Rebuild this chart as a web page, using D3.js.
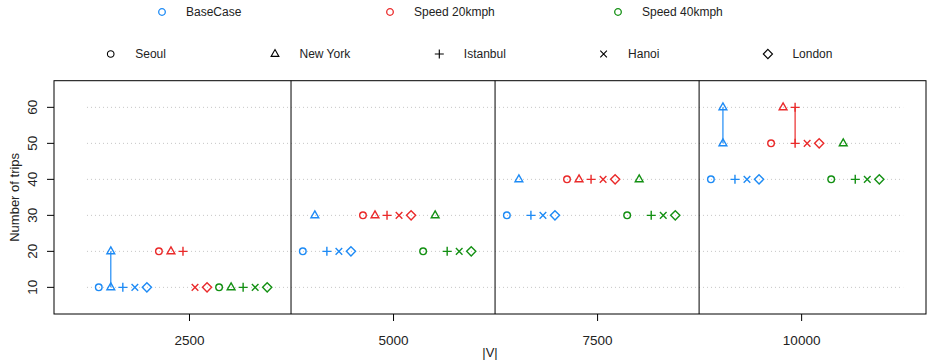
<!DOCTYPE html>
<html>
<head>
<meta charset="utf-8">
<style>
  body { margin: 0; background: white; font-family: "Liberation Sans", Arial, Helvetica, sans-serif; }
  svg { display: block; }
</style>
<script src="https://cdn.jsdelivr.net/npm/d3@7"></script>
</head>
<body>
<svg id="chart"></svg>
<script>
// |V| of each group and the labels
const vValues = [2500, 5000, 7500, 10000]
const xTicks = [2500, 5000, 7500, 10000]
const yTicks = [10, 20, 30, 40, 50, 60]
const scenarios = ["BaseCase", "Speed 20kmph", "Speed 40kmph"]
const cities = ["Seoul", "New York", "Istanbul", "Hanoi", "London"]

// number of trips, one row per |V|, one column per city (low / high of the runs)
const tripsBaseLow  = [[10, 10, 10, 10, 10], [20, 30, 20, 20, 20], [30, 40, 30, 30, 30], [40, 50, 40, 40, 40]]
const tripsBaseHigh = [[10, 20, 10, 10, 10], [20, 30, 20, 20, 20], [30, 40, 30, 30, 30], [40, 60, 40, 40, 40]]
const trips20Low    = [[20, 20, 20, 10, 10], [30, 30, 30, 30, 30], [40, 40, 40, 40, 40], [50, 60, 50, 50, 50]]
const trips20High   = [[20, 20, 20, 10, 10], [30, 30, 30, 30, 30], [40, 40, 40, 40, 40], [50, 60, 60, 50, 50]]
const trips40Low    = [[10, 10, 10, 10, 10], [20, 30, 20, 20, 20], [30, 40, 30, 30, 30], [40, 50, 40, 40, 40]]
const trips40High   = [[10, 10, 10, 10, 10], [20, 30, 20, 20, 20], [30, 40, 30, 30, 30], [40, 50, 40, 40, 40]]

const lowSets = [tripsBaseLow, trips20Low, trips40Low]
const highSets = [tripsBaseHigh, trips20High, trips40High]
const colors = ["#1E8BF5", "#EA2A2A", "#139013"]

let width = 928
let height = 363
let svg = d3.select("#chart").attr("width", width).attr("height", height)

let x = d3.scaleLinear().domain([846, 11530]).range([54, 926])
let y = d3.scaleLinear().domain([2.6, 67.4]).range([314, 80.7])

// spacing of the points inside one |V| group (in |V| units)
let slotStep = 147.4

// symbol paths, like R pch 1..5
function symbolPath(k) {
  if (k == 0) return "M3.3,0A3.3,3.3 0 1,1 -3.3,0A3.3,3.3 0 1,1 3.3,0Z"
  if (k == 1) return "M0,-4.4L3.9,2.4L-3.9,2.4Z"
  if (k == 2) return "M-4.5,0L4.5,0M0,-4.5L0,4.5"
  if (k == 3) return "M-3.3,-3.3L3.3,3.3M-3.3,3.3L3.3,-3.3"
  return "M0,-4.6L4.6,0L0,4.6L-4.6,0Z"
}

// rows of points
let points = []
let ranges = []
vValues.forEach((v, p) => {
  scenarios.forEach((s, si) => {
    cities.forEach((c, ci) => {
      let slot = si * cities.length + ci
      let xv = v + (slot - 7.5) * slotStep
      let lo = lowSets[si][p][ci]
      let hi = highSets[si][p][ci]
      points.push({ x: xv, y: lo, s: si, c: ci })
      if (hi != lo) {
        points.push({ x: xv, y: hi, s: si, c: ci })
        ranges.push({ x: xv, lo: lo, hi: hi, s: si })
      }
    })
  })
})

// dotted grid, spanning the groups
svg.append("g").selectAll("line").data(yTicks).enter().append("line")
  .attr("x1", x(vValues[0] - 1250)).attr("x2", x(vValues[vValues.length - 1] + 1250))
  .attr("y1", d => y(d)).attr("y2", d => y(d))
  .attr("stroke", "#c4c4c4").attr("stroke-width", 1).attr("stroke-dasharray", "1,3")

// separators between groups
let seps = d3.pairs(vValues).map(d => (d[0] + d[1]) / 2)
svg.append("g").selectAll("line").data(seps).enter().append("line")
  .attr("x1", d => x(d)).attr("x2", d => x(d))
  .attr("y1", y.range()[0]).attr("y2", y.range()[1])
  .attr("stroke", "black").attr("stroke-width", 1)

// vertical segments for the ranges
svg.append("g").selectAll("line").data(ranges).enter().append("line")
  .attr("x1", d => x(d.x)).attr("x2", d => x(d.x))
  .attr("y1", d => y(d.lo)).attr("y2", d => y(d.hi))
  .attr("stroke", d => colors[d.s]).attr("stroke-width", 1.2)

svg.append("g").selectAll("path").data(points).enter().append("path")
  .attr("d", d => symbolPath(d.c))
  .attr("transform", d => `translate(${x(d.x)},${y(d.y)})`)
  .attr("fill", "none").attr("stroke", d => colors[d.s]).attr("stroke-width", 1.4)

// box
svg.append("rect")
  .attr("x", 54).attr("y", 80.7).attr("width", 872).attr("height", 314 - 80.7)
  .attr("fill", "none").attr("stroke", "black").attr("stroke-width", 1)

// axes
let xAxis = d3.axisBottom(x).tickValues(xTicks).tickSize(7).tickPadding(14).tickFormat(d3.format("d"))
let gx = svg.append("g").attr("transform", "translate(0,314)").call(xAxis)
gx.select(".domain").remove()
gx.selectAll("text").attr("font-size", 13.5).attr("font-family", null).attr("fill", "#222")

let gy = svg.append("g").attr("transform", "translate(54,0)")
gy.selectAll("line").data(yTicks).enter().append("line")
  .attr("x1", -7).attr("x2", 0).attr("y1", d => y(d)).attr("y2", d => y(d))
  .attr("stroke", "black")
gy.selectAll("text").data(yTicks).enter().append("text")
  .attr("transform", d => `translate(-17.5,${y(d)}) rotate(-90)`)
  .attr("text-anchor", "middle").attr("font-size", 13.5).attr("fill", "#222")
  .text(d => d)

svg.append("text").attr("x", 490).attr("y", 357).attr("text-anchor", "middle")
  .attr("font-size", 13).attr("fill", "#222").text("|V|")
svg.append("text").attr("transform", `translate(19,${(314 + 80.7) / 2}) rotate(-90)`)
  .attr("text-anchor", "middle").attr("font-size", 13).attr("fill", "#222").text("Number of trips")

// legends
let leg1 = svg.append("g").selectAll("g").data(scenarios).enter().append("g")
  .attr("transform", (d, i) => `translate(${162 + i * 228},12)`)
leg1.append("path").attr("d", symbolPath(0)).attr("fill", "none")
  .attr("stroke", (d, i) => colors[i]).attr("stroke-width", 1.3)
leg1.append("text").attr("x", 24).attr("y", 4.3).attr("font-size", 12).attr("fill", "#222").text(d => d)

let leg2 = svg.append("g").selectAll("g").data(cities).enter().append("g")
  .attr("transform", (d, i) => `translate(${110.7 + i * 164.3},54)`)
leg2.append("path").attr("d", (d, i) => symbolPath(i)).attr("fill", "none")
  .attr("stroke", "black").attr("stroke-width", 1.1)
leg2.append("text").attr("x", 24.5).attr("y", 4.3).attr("font-size", 12).attr("fill", "#222").text(d => d)
</script>
</body>
</html>
